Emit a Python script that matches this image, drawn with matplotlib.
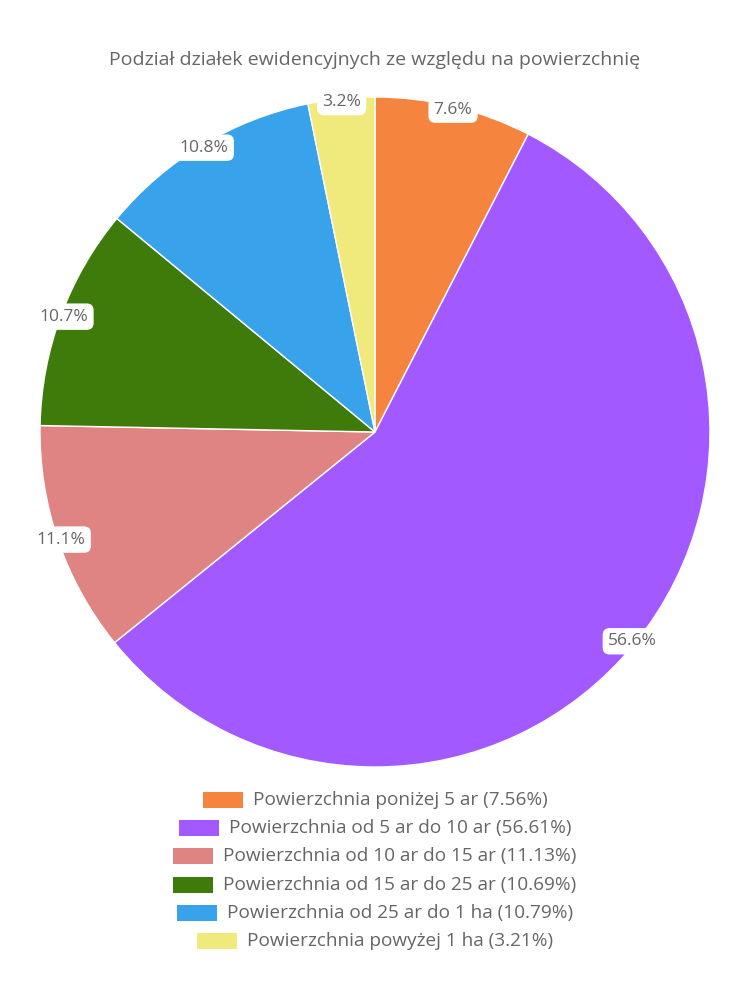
import matplotlib
matplotlib.use("Agg")
import matplotlib.pyplot as plt
import numpy as np
from matplotlib.patches import Rectangle

plt.rcParams['font.family'] = ['Open Sans', 'DejaVu Sans']

title = "Podział działek ewidencyjnych ze względu na powierzchnię"
categories = ["Powierzchnia poniżej 5 ar", "Powierzchnia od 5 ar do 10 ar",
              "Powierzchnia od 10 ar do 15 ar", "Powierzchnia od 15 ar do 25 ar",
              "Powierzchnia od 25 ar do 1 ha", "Powierzchnia powyżej 1 ha"]
values = [7.56, 56.61, 11.13, 10.69, 10.79, 3.21]
colors = ["#F5843F", "#A259FF", "#E08383", "#3E7B0B", "#38A3EB", "#F0EA7C"]
text_color = "#666666"

W, H = 750, 1000
fig = plt.figure(figsize=(7.5, 10), dpi=100)
ax = fig.add_axes([40/W, (H-767)/H, 670/W, 670/H])
wedges, _ = ax.pie(values, colors=colors, startangle=90, counterclock=False,
                   radius=1.0, wedgeprops=dict(edgecolor="white", linewidth=1))
ax.set_xlim(-1, 1)
ax.set_ylim(-1, 1)
ax.set_aspect('equal')
ax.axis('off')

total = sum(values)
for w, v in zip(wedges, values):
    ang = np.deg2rad((w.theta1 + w.theta2) / 2)
    r = 0.99
    x, y = r * np.cos(ang), r * np.sin(ang)
    ax.text(x, y, f"{v / total * 100:.1f}%", ha='center', va='center', fontsize=12.5,
            color=text_color,
            bbox=dict(boxstyle="round,pad=0.3,rounding_size=0.4", fc="white", ec="none"),
            clip_on=False)

fig.text(0.5, 1 - 60/H, title, ha='center', va='center', fontsize=14, color=text_color)

renderer = fig.canvas.get_renderer()
rect_w, rect_h, gap = 40, 16, 10
y0, dy = 800, 28.2
for i, (c, v, col) in enumerate(zip(categories, values, colors)):
    yc = y0 + dy * i
    t = fig.text(0, 1 - yc/H, f"{c} ({v:.2f}%)", ha='left', va='center',
                 fontsize=13.7, color=text_color)
    tw = t.get_window_extent(renderer).width
    total_w = rect_w + gap + tw
    x_start = W/2 - total_w/2
    fig.add_artist(Rectangle((x_start/W, 1 - (yc + rect_h/2)/H), rect_w/W, rect_h/H,
                             transform=fig.transFigure, fc=col, ec="none"))
    t.set_x((x_start + rect_w + gap)/W)

fig.savefig("out.png", dpi=100, facecolor="white")
